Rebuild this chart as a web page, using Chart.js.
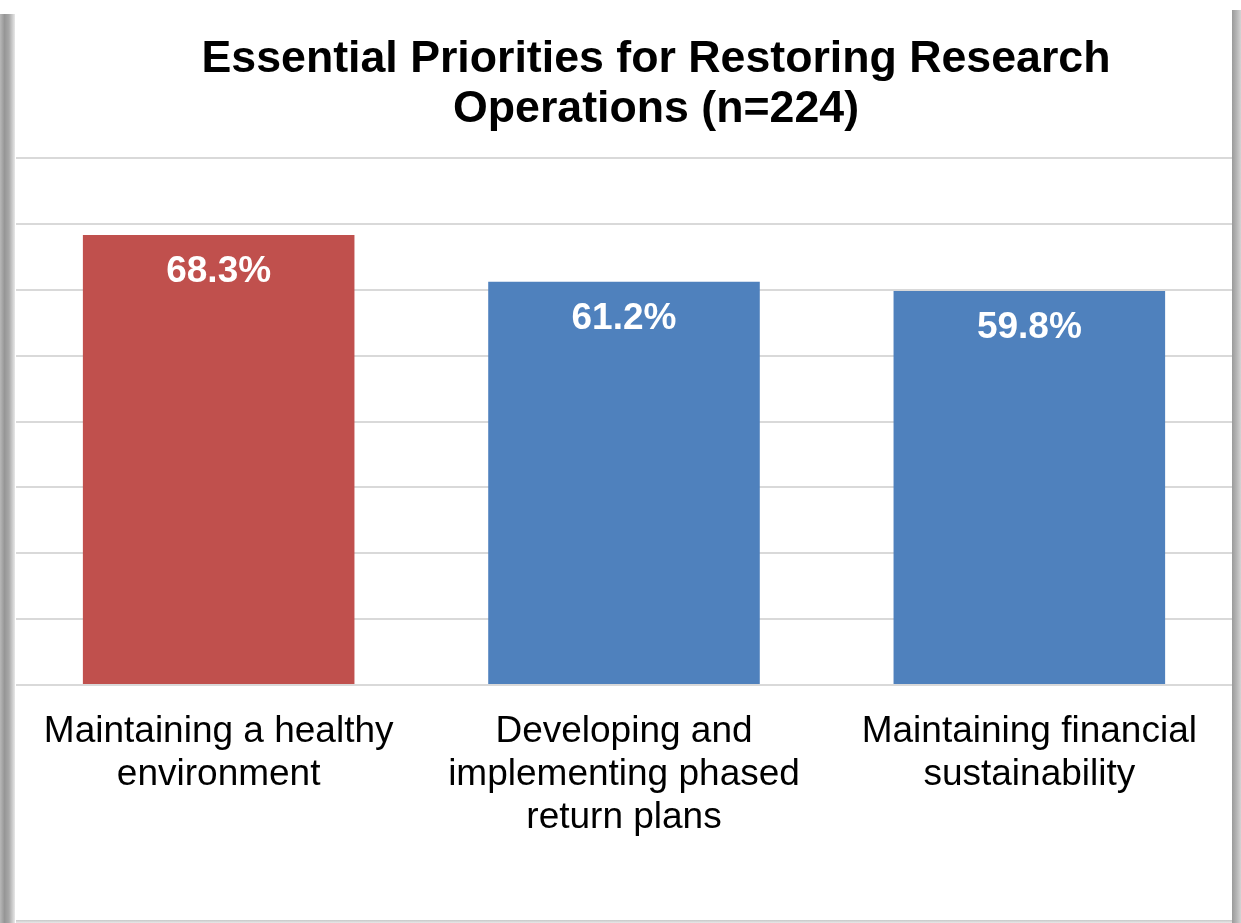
<!DOCTYPE html>
<html>
<head>
<meta charset="utf-8">
<script src="https://cdn.jsdelivr.net/npm/chart.js@4.4.0/dist/chart.umd.min.js"></script>
<style>
    html, body { margin: 0; padding: 0; background: #fff; }
    body { width: 1241px; height: 923px; position: relative; overflow: hidden; font-family: "Liberation Sans", Arial, sans-serif; }
    #shadowLeft { position: absolute; left: 0; top: 14px; width: 15px; height: 909px;
        background: linear-gradient(to right, #b8b8b8, #969696 30%, #a8a8a8 60%, #e8e8e8); }
    #shadowRight { position: absolute; left: 1232px; top: 10px; width: 9px; height: 913px;
        background: linear-gradient(to right, #9a9a9a, #b4b4b4 50%, #d4d4d4); }
    #shadowBottom { position: absolute; left: 16px; top: 920px; width: 1216px; height: 3px;
        background: linear-gradient(to bottom, #c8c8c8, #e8e8e8); }
    #panel { position: absolute; left: 16px; top: 0; width: 1216px; height: 920px; background: #fff; }
    #chartTitle { position: absolute; left: 656px; top: 32px; transform: translateX(-50%);
        white-space: nowrap; text-align: center; font-weight: bold; font-size: 44.7px; line-height: 50px; color: #000; }
</style>
</head>
<body>
<div id="shadowLeft"></div>
<div id="shadowRight"></div>
<div id="shadowBottom"></div>
<div id="panel">
    <canvas id="priorityChart" width="1216" height="920"></canvas>
</div>
<div id="chartTitle">Essential Priorities for Restoring Research<br>Operations (n=224)</div>

<script>
// 数据
const categories = [
    ['Maintaining a healthy', 'environment'],
    ['Developing and', 'implementing phased', 'return plans'],
    ['Maintaining financial', 'sustainability']
];
const percentValues = [68.3, 61.2, 59.8];
const barColors = ['#C0504D', '#4F81BD', '#4F81BD'];
const yTicks = [0, 10, 20, 30, 40, 50, 60, 70, 80];

// 柱内数值标签
const valueLabels = {
    id: 'valueLabels',
    afterDatasetsDraw(chart) {
        const ctx = chart.ctx;
        const meta = chart.getDatasetMeta(0);
        ctx.save();
        ctx.fillStyle = '#fff';
        ctx.font = 'bold 37px "Liberation Sans", Arial, sans-serif';
        ctx.textAlign = 'center';
        ctx.textBaseline = 'middle';
        meta.data.forEach((bar, i) => {
            ctx.fillText(percentValues[i].toFixed(1) + '%', bar.x, bar.y + 37);
        });
        ctx.restore();
    }
};

const ctx = document.getElementById('priorityChart').getContext('2d');
new Chart(ctx, {
    type: 'bar',
    data: {
        labels: categories,
        datasets: [{
            data: percentValues,
            backgroundColor: barColors,
            borderWidth: 0,
            barPercentage: 0.67,
            categoryPercentage: 1
        }]
    },
    options: {
        responsive: false,
        animation: false,
        layout: { padding: { top: 158, left: 0, right: 0, bottom: 0 } },
        plugins: {
            legend: { display: false },
            tooltip: { enabled: false }
        },
        scales: {
            x: {
                grid: { display: false, drawTicks: false },
                border: { display: false },
                ticks: {
                    color: '#000',
                    padding: 25,
                    font: { family: '"Liberation Sans", Arial, sans-serif', size: 37, lineHeight: 1.16 },
                    maxRotation: 0,
                    autoSkip: false
                },
                afterFit(scale) { scale.height = 235; }
            },
            y: {
                min: 0,
                max: 80,
                afterBuildTicks(scale) { scale.ticks = yTicks.map(v => ({ value: v })); },
                grid: { color: '#d9d9d9', lineWidth: 2, drawTicks: false },
                border: { display: false },
                ticks: { display: false },
                afterFit(scale) { scale.width = 0; }
            }
        }
    },
    plugins: [valueLabels]
});
</script>
</body>
</html>
